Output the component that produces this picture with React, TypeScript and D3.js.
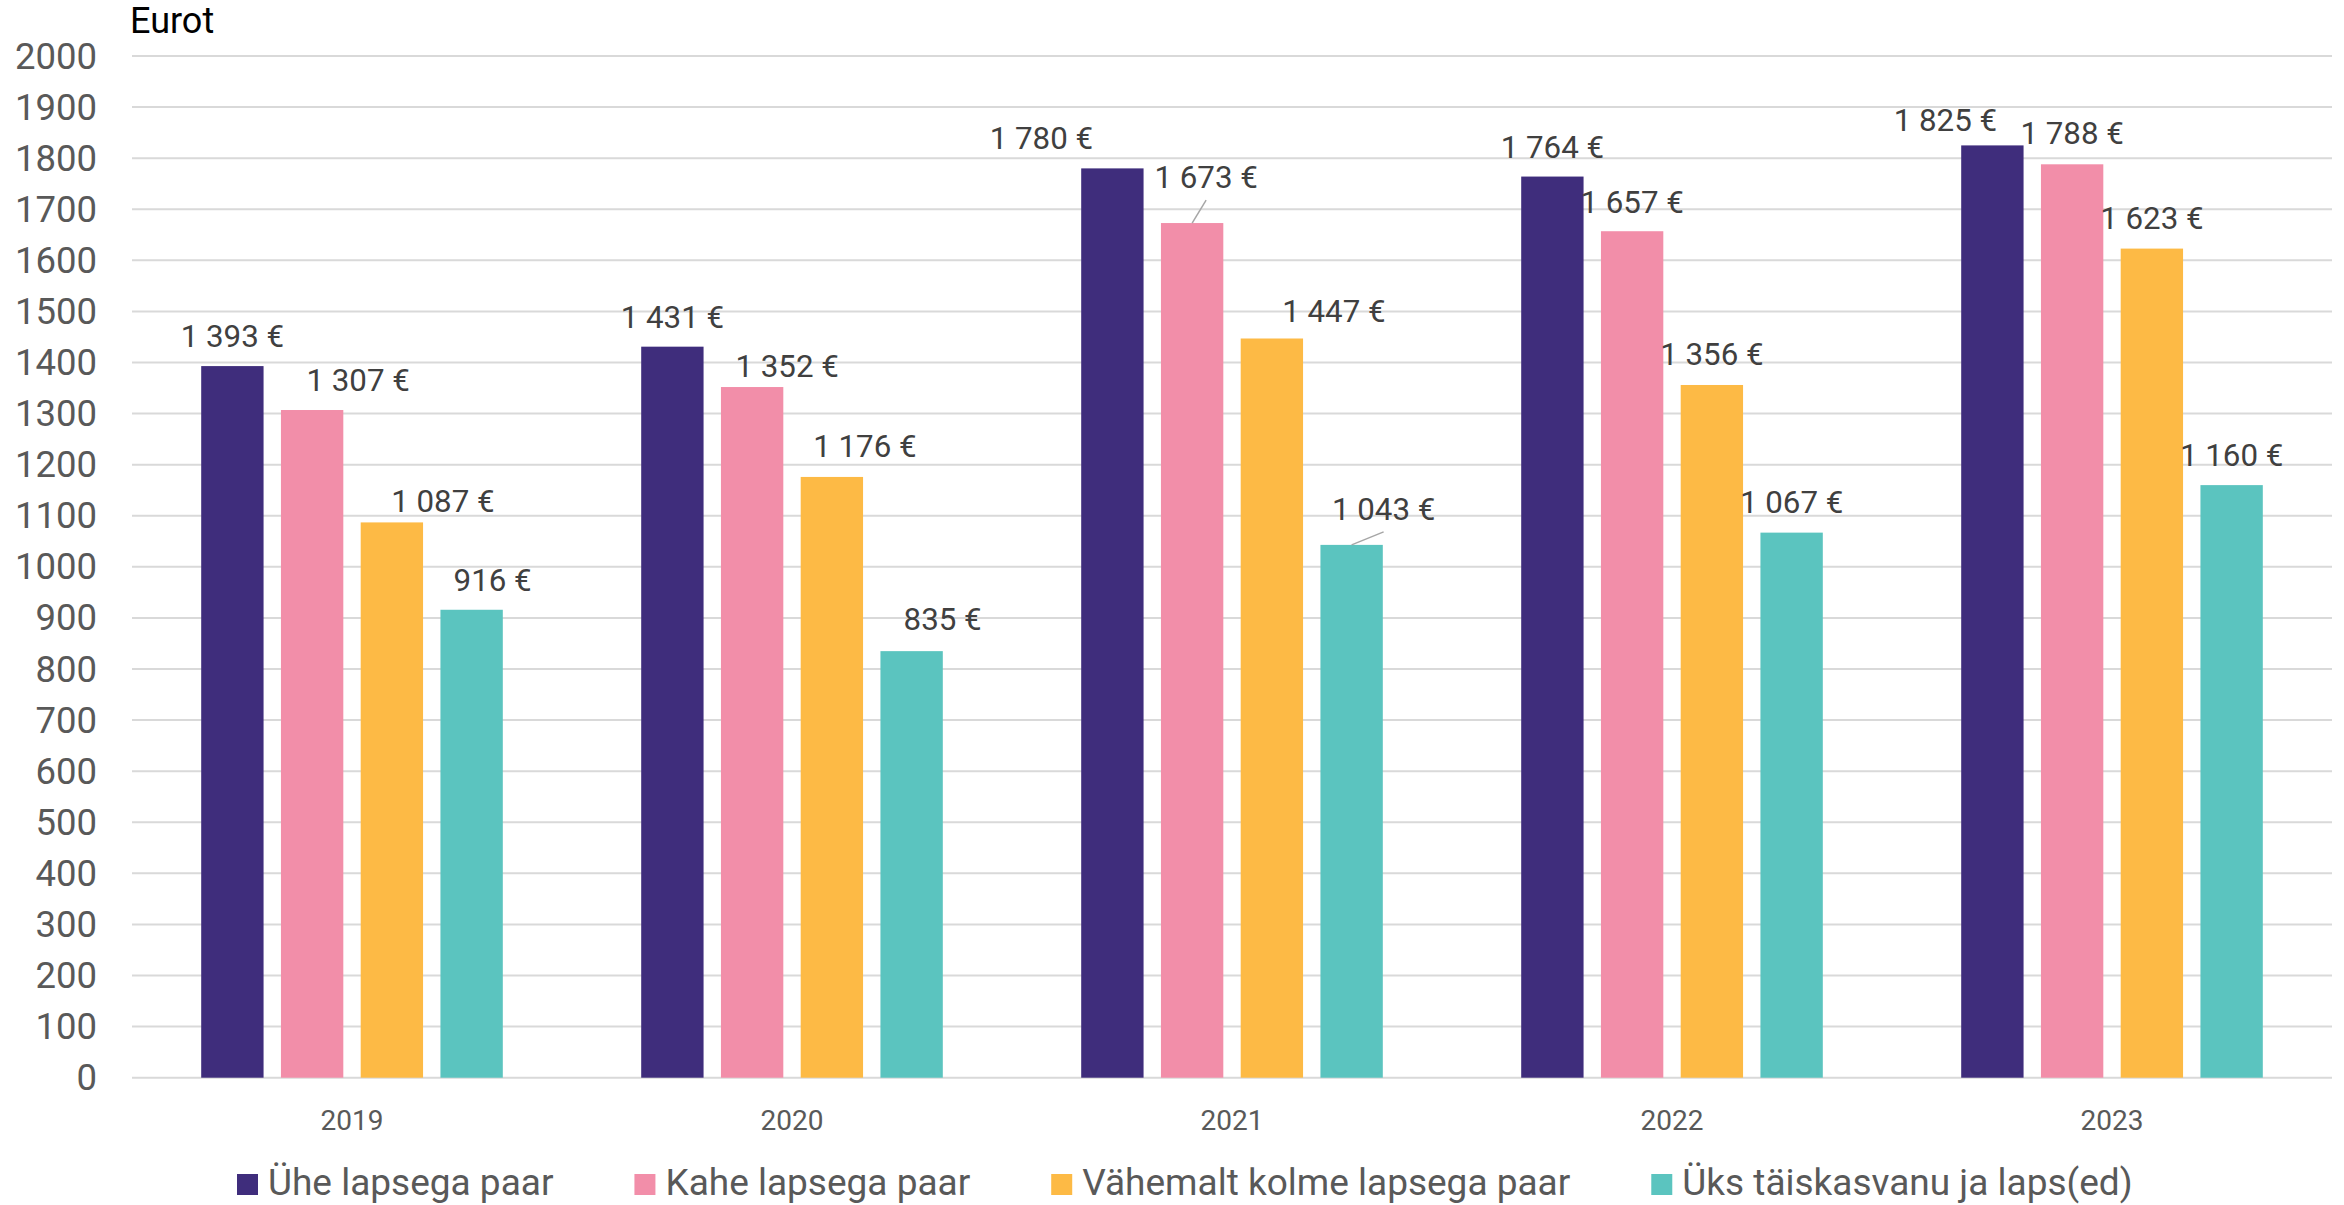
import React from "react";
import * as d3 from "d3";

const years = ["2019", "2020", "2021", "2022", "2023"];
const seriesNames = [
  "Ühe lapsega paar",
  "Kahe lapsega paar",
  "Vähemalt kolme lapsega paar",
  "Üks täiskasvanu ja laps(ed)",
];
const oneChild = [1393, 1431, 1780, 1764, 1825];
const twoChildren = [1307, 1352, 1673, 1657, 1788];
const threePlus = [1087, 1176, 1447, 1356, 1623];
const singleParent = [916, 835, 1043, 1067, 1160];
const yTicks = [0, 100, 200, 300, 400, 500, 600, 700, 800, 900, 1000, 1100, 1200, 1300, 1400, 1500, 1600, 1700, 1800, 1900, 2000];
const yAxisTitle = "Eurot";

const colors = ["#3f2d7c", "#f28ea9", "#fdba45", "#5bc4bf"];

// label placement adjustments (px, per series, per year)
const labelDx = [
  [0, 0, -71, 0, -47],
  [46, 35, 14, 0, 0],
  [51, 33, 62, 0, 0],
  [21, 31, 32, 0, 0],
];
const labelDy = [
  [-19, -19, -19, -19, -14.5],
  [-19, -10, -35, -18.5, -20],
  [-10, -20, -17, -19.5, -19.5],
  [-19, -21, -25, -20, -19],
];
const leader = [
  [false, false, false, false, false],
  [false, false, true, false, false],
  [false, false, false, false, false],
  [false, false, true, false, false],
];

const W = 2344;
const H = 1205;
const left = 132;
const right = 2332;
const y0 = 1077.7;
const yTop = 56;

const fmt = (v: number) => d3.format(",")(v).replace(/,/g, "\u00a0") + "\u00a0€";

function measure(text: string, font: string): number {
  const c = document.createElement("canvas");
  const ctx = c.getContext("2d");
  if (!ctx) return text.length * 18;
  ctx.font = font;
  return ctx.measureText(text).width;
}

export default function App() {
  const series = [oneChild, twoChildren, threePlus, singleParent];
  const x0 = d3.scaleBand<string>().domain(years).range([left, right]).padding(0);
  const x1 = d3
    .scaleBand<number>()
    .domain([0, 1, 2, 3])
    .range([69.2, 440 - 69.2])
    .paddingInner(0.218)
    .paddingOuter(0);
  const y = d3.scaleLinear().domain([0, 2000]).range([y0, yTop]);

  const legendFont = "37px Roboto";
  const legendItems: { x: number; name: string; color: string }[] = [];
  let lx = 237;
  seriesNames.forEach((name, i) => {
    legendItems.push({ x: lx, name, color: colors[i] });
    lx += 31 + measure(name, legendFont) + 81;
  });

  return (
    <div style={{ position: "absolute", left: 0, top: 0 }}>
      <svg width={W} height={H} style={{ display: "block", background: "#fff" }} fontFamily="Roboto, sans-serif">
        <rect x={0} y={0} width={W} height={H} fill="#fff" />
        {yTicks.map((t) => (
          <g key={t}>
            <line x1={left} x2={right} y1={y(t)} y2={y(t)} stroke="#d9d9d9" strokeWidth={2} />
            <text x={97} y={y(t) + 12.5} textAnchor="end" fontSize={36.5} fill="#595959">
              {t}
            </text>
          </g>
        ))}
        <text x={130} y={33} fontSize={36} fill="#000">
          {yAxisTitle}
        </text>
        {series.map((vals, si) =>
          vals.map((v, yi) => {
            const bx = (x0(years[yi]) as number) + (x1(si) as number);
            const bw = x1.bandwidth();
            return (
              <rect key={`b${si}-${yi}`} x={bx} y={y(v)} width={bw} height={y0 - y(v)} fill={colors[si]} />
            );
          })
        )}
        {series.map((vals, si) =>
          vals.map((v, yi) => {
            const bx = (x0(years[yi]) as number) + (x1(si) as number);
            const cx = bx + x1.bandwidth() / 2;
            const top = y(v);
            const lxp = cx + labelDx[si][yi];
            const base = top + labelDy[si][yi];
            return (
              <g key={`l${si}-${yi}`}>
                {leader[si][yi] && (
                  <line x1={cx} y1={top} x2={lxp} y2={base + 12} stroke="#a6a6a6" strokeWidth={1.5} />
                )}
                <text x={lxp} y={base} textAnchor="middle" fontSize={31.3} fill="#404040">
                  {fmt(v)}
                </text>
              </g>
            );
          })
        )}
        {years.map((yr) => (
          <text
            key={yr}
            x={(x0(yr) as number) + x0.bandwidth() / 2}
            y={1130}
            textAnchor="middle"
            fontSize={28}
            fill="#595959"
          >
            {yr}
          </text>
        ))}
        {legendItems.map((it) => (
          <g key={it.name}>
            <rect x={it.x} y={1174} width={21} height={21} fill={it.color} />
            <text x={it.x + 31} y={1195} fontSize={37} fill="#595959">
              {it.name}
            </text>
          </g>
        ))}
      </svg>
    </div>
  );
}
